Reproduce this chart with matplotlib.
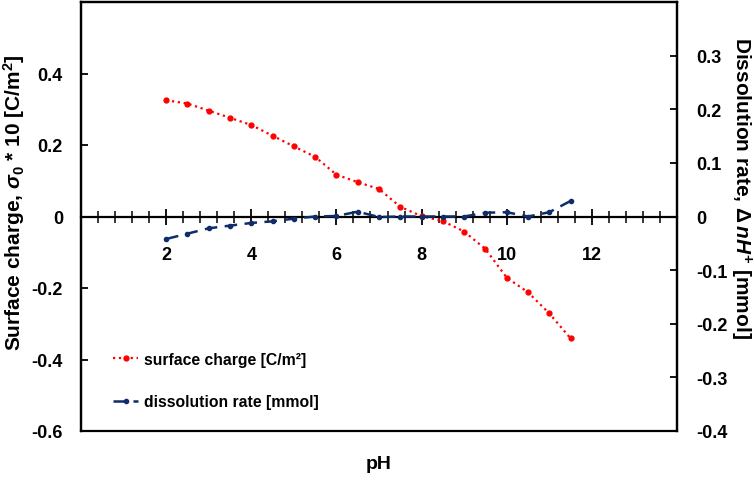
import numpy as np
import matplotlib
matplotlib.use('Agg')
import matplotlib.pyplot as plt
from matplotlib.ticker import MultipleLocator, FixedLocator, FixedFormatter

plt.rcParams['font.family'] = ['Liberation Sans', 'DejaVu Sans']
plt.rcParams['font.weight'] = 'bold'
plt.rcParams['mathtext.fontset'] = 'custom'
plt.rcParams['mathtext.rm'] = 'Liberation Sans:bold'
plt.rcParams['mathtext.it'] = 'Liberation Sans:bold:italic'
plt.rcParams['mathtext.bf'] = 'Liberation Sans:bold'

# pH values
ph = [2, 2.5, 3, 3.5, 4, 4.5, 5, 5.5, 6, 6.5, 7, 7.5, 8, 8.5, 9, 9.5, 10, 10.5, 11, 11.5]
# surface charge sigma0*10 [C/m2] (left axis)
charge = [0.325, 0.316, 0.296, 0.276, 0.256, 0.226, 0.196, 0.167, 0.117, 0.096,
          0.077, 0.027, 0.001, -0.013, -0.042, -0.091, -0.171, -0.212, -0.271, -0.341]
# dissolution rate [mmol] (right axis)
dissol = [-0.042, -0.032, -0.022, -0.017, -0.012, -0.009, -0.004, 0.0, 0.001, 0.009,
          -0.001, 0.0, 0.0, 0.0, 0.0, 0.007, 0.008, 0.0, 0.008, 0.029]

red = '#ff0000'
navy = '#0e2d69'

fig = plt.figure(figsize=(7.54, 4.81), dpi=100)
ax1 = fig.add_axes([81/754, 49/481, 596/754, 429/481])
ax2 = ax1.twinx()

l1, = ax1.plot(ph, charge, color=red, linestyle=':', linewidth=1.6,
               marker='o', markersize=3.5, label='surface charge [C/m²]')
l2, = ax2.plot(ph, dissol, color=navy, linestyle=(0, (5, 3)), linewidth=1.8,
               marker='o', markersize=3, label='dissolution rate [mmol]')

ax1.set_xlim(0, 14)
ax1.set_ylim(-0.6, 0.6)
ax2.set_ylim(-0.4, 0.4)

# x axis through zero
ax1.spines['bottom'].set_position(('data', 0))
ax1.spines['bottom'].set_linewidth(1.6)
for s in ['left', 'top', 'right']:
    ax1.spines[s].set_linewidth(1.6)
for s in ax2.spines.values():
    s.set_linewidth(1.6)

ax1.xaxis.set_major_locator(FixedLocator([0, 2, 4, 6, 8, 10, 12, 14]))
ax1.xaxis.set_major_formatter(FixedFormatter(['', '2', '4', '6', '8', '10', '12', '']))
ax1.xaxis.set_minor_locator(MultipleLocator(0.4))
ax1.tick_params(axis='x', which='major', direction='inout', length=12, width=1.3,
                pad=15, labelsize=13)
ax1.tick_params(axis='x', which='minor', direction='inout', length=9, width=1.1)

ax1.set_yticks([-0.6, -0.4, -0.2, 0, 0.2, 0.4])
ax1.set_yticklabels(['-0.6', '-0.4', '-0.2', '0', '0.2', '0.4'])
ax1.tick_params(axis='y', direction='in', length=5, width=1.3, pad=13, labelsize=13)

ax2.set_yticks([-0.4, -0.3, -0.2, -0.1, 0, 0.1, 0.2, 0.3])
ax2.set_yticklabels(['-0.4', '-0.3', '-0.2', '-0.1', '0', '0.1', '0.2', '0.3'])
ax2.tick_params(axis='y', direction='in', length=5, width=1.3, pad=14, labelsize=13)

ax1.set_ylabel(r'Surface charge, $\sigma_0$ * 10 [C/m$^2$]', fontsize=15, fontweight='bold')
ax1.yaxis.set_label_coords(-0.09, 0.534)
ax2.set_ylabel(r'Dissolution rate, $\Delta\,nH^{+}$ [mmol]', fontsize=15,
               fontweight='bold', rotation=270, va='center')
ax2.yaxis.set_label_coords(1.107, 0.569)

fig.text(379/754, 1 - 465/481, 'pH', fontsize=14, fontweight='bold',
         ha='center', va='center')

leg = ax1.legend([l1, l2], [l1.get_label(), l2.get_label()], loc='lower left',
                 bbox_to_anchor=(0.03, 0.018), frameon=False, fontsize=11.3,
                 labelspacing=1.75, handlelength=1.6, handletextpad=0.35)

fig.savefig('out.png', dpi=100)
